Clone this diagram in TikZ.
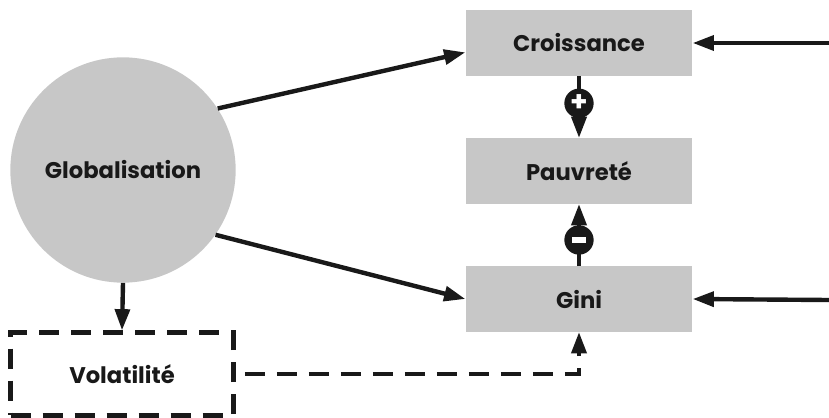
\documentclass[tikz,border=0pt]{standalone}
\usepackage{fontspec}
\setmainfont{Poppins}
\usetikzlibrary{arrows.meta}
\tikzset{
greybox/.style={
	  fill=black!22, minimum width=170pt, minimum height=49pt,
	    font=\fontsize{17}{19}\selectfont\bfseries, text=black!90},
bigcircle/.style={
	  circle, fill=black!22, minimum size=169pt,
	    font=\fontsize{17}{19}\selectfont\bfseries, text=black!90},
dashbox/.style={
	  draw=black!90, line width=3.3pt, dash pattern=on 15pt off 9pt,
	    minimum width=167pt, minimum height=62pt,
	    font=\fontsize{17}{19}\selectfont\bfseries, text=black!90},
sign/.style={
	  circle, fill=black!90, text=white, inner sep=0pt, minimum size=22pt,
	    font=\fontsize{21}{21}\selectfont\bfseries},
link/.style={draw=black!90, line width=3.3pt, -{Triangle[length=16pt,width=11pt]}}
}

\begin{document}
\begin{tikzpicture}[x=0.75pt, y=-0.75pt]
	\useasboundingbox (0,0) rectangle (829,418);
	\node[bigcircle] (glob) at (123,170) {Globalisation};
	\node[greybox] (crois) at (579,43) {Croissance};
	\node[greybox] (pauv) at (579,171) {Pauvreté};
	\node[greybox] (gini) at (579,299) {Gini};
	\node[dashbox] (vola) at (122,374) {Volatilité};
	\coordinate (inC) at (829,43);
	\coordinate (inG) at (829,300);
	\draw[link] (glob.33) -- ([yshift=-7pt]crois.west);
	\draw[link] (glob.-35) -- (gini.west);
	\draw[link] (glob.south) -- (vola.north);
	\draw[link] (inC) -- (crois.east);
	\draw[link] (inG) -- (gini.east);
	\draw[link] (crois) -- (pauv) node[pos=0.44, sign] {\raisebox{-1pt}{+}};
	\draw[link] (gini) -- (pauv) node[pos=0.42, sign] {\rule{10pt}{3.8pt}};
	\draw[link, dash pattern=on 15pt off 9pt, shorten <=7pt] (vola.east) -| (gini.south);
\end{tikzpicture}
\end{document}
